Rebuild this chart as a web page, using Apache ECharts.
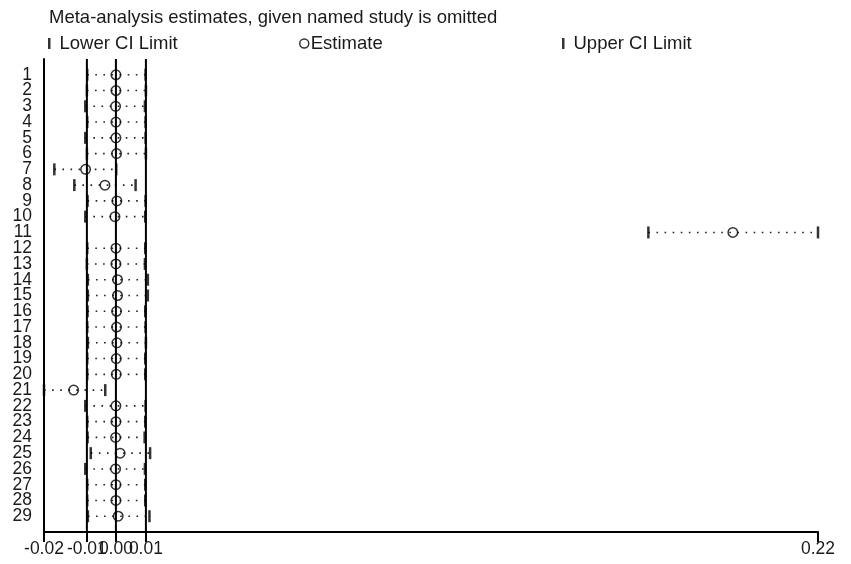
<!DOCTYPE html>
<html>
<head>
<meta charset="utf-8">
<script src="https://cdn.jsdelivr.net/npm/echarts@6/dist/echarts.min.js"></script>
<style>
html,body{margin:0;padding:0;background:#fff;}
#chart{width:851px;height:564px;}
</style>
</head>
<body>
<div id="chart"></div>
<script>
// Study labels (rows, top to bottom)
const studies = ['1','2','3','4','5','6','7','8','9','10','11','12','13','14','15','16','17','18','19','20','21','22','23','24','25','26','27','28','29'];
// Meta-analysis estimate with the named study omitted, and its CI limits
const lowerCI  = [-0.0066,-0.0067,-0.0072,-0.0066,-0.0072,-0.0067,-0.0168,-0.0106,-0.0065,-0.0072,0.1674,-0.0066,-0.0067,-0.0064,-0.0064,-0.0065,-0.0066,-0.0064,-0.0066,-0.0066,-0.0200,-0.0072,-0.0066,-0.0065,-0.0055,-0.0072,-0.0066,-0.0066,-0.0064];
const estimate = [0.0023,0.0023,0.0022,0.0023,0.0023,0.0025,-0.0071,-0.0011,0.0026,0.0020,0.1936,0.0023,0.0023,0.0028,0.0028,0.0025,0.0025,0.0026,0.0024,0.0024,-0.0108,0.0023,0.0023,0.0022,0.0036,0.0022,0.0023,0.0023,0.0030];
const upperCI  = [0.0115,0.0116,0.0113,0.0115,0.0115,0.0116,0.0024,0.0084,0.0115,0.0114,0.2200,0.0114,0.0113,0.0122,0.0122,0.0114,0.0115,0.0116,0.0114,0.0114,-0.0010,0.0115,0.0114,0.0112,0.0129,0.0113,0.0114,0.0114,0.0127];
// Overall (all studies) lower CI, estimate, upper CI
const overall = [-0.0067, 0.0023, 0.0116];
// x-axis range and tick values
const xRange = [-0.02, 0.22];
const xTicks = [-0.02, -0.0067, 0.0023, 0.0116, 0.22];

const FONT = 'Liberation Sans';
const TXT = '#1a1a1a';

// category slots: empty padding slot above row 1 and below the last row
const yCats = [''].concat(studies, ['']);
const lastSlot = yCats.length - 1;
const rowPos = studies.map((s, i) => i + 1);
const loData = lowerCI.map((v, i) => [v, rowPos[i]]);
const estData = estimate.map((v, i) => [v, rowPos[i]]);
const hiData = upperCI.map((v, i) => [v, rowPos[i]]);
const ciData = lowerCI.map((v, i) => [v, upperCI[i], rowPos[i]]);

const chart = echarts.init(document.getElementById('chart'), null, {renderer: 'canvas'});
chart.setOption({
  animation: false,
  backgroundColor: '#fff',
  title: {
    text: 'Meta-analysis estimates, given named study is omitted',
    left: 44, top: 3,
    textStyle: {fontFamily: FONT, fontSize: 18.5, fontWeight: 'normal', color: TXT}
  },
  legend: [
    {data: [{name: 'Lower CI Limit', icon: 'rect', itemStyle: {color: '#000', borderWidth: 0}}],
     left: 43, top: 29, itemWidth: 2.5, itemHeight: 11, selectedMode: false,
     textStyle: {fontFamily: FONT, fontSize: 18.5, color: TXT, padding: [0,0,0,4]}},
    {data: [{name: 'Estimate', icon: 'circle', itemStyle: {color: 'rgba(0,0,0,0)', borderColor: '#000', borderWidth: 1.5}}],
     left: 294, top: 29, itemWidth: 9, itemHeight: 9, selectedMode: false,
     textStyle: {fontFamily: FONT, fontSize: 18.5, color: TXT, padding: [0,0,0,-3]}},
    {data: [{name: 'Upper CI Limit', icon: 'rect', itemStyle: {color: '#000', borderWidth: 0}}],
     left: 557, top: 29, itemWidth: 2.5, itemHeight: 11, selectedMode: false,
     textStyle: {fontFamily: FONT, fontSize: 18.5, color: TXT, padding: [0,0,0,4]}}
  ],
  grid: {left: 44, right: 33, top: 59, bottom: 32, containLabel: false},
  xAxis: {
    type: 'value', min: xRange[0], max: xRange[1],
    axisLine: {show: true, onZero: false, lineStyle: {color: '#000', width: 2}},
    axisTick: {show: true, length: 10, customValues: xTicks, lineStyle: {color: '#000', width: 2}},
    axisLabel: {customValues: xTicks, formatter: v => v.toFixed(2), margin: 8,
      fontFamily: FONT, fontSize: 17.5, color: TXT, hideOverlap: false},
    splitLine: {show: false}
  },
  yAxis: {
    type: 'category', data: yCats, boundaryGap: false, inverse: true,
    axisLine: {show: true, onZero: false, lineStyle: {color: '#000', width: 2}},
    axisTick: {show: false},
    axisLabel: {interval: 0, margin: 12, fontFamily: FONT, fontSize: 17.5, color: TXT},
    splitLine: {show: false}
  },
  series: [
    {
      name: 'CI', type: 'custom', z: 1, silent: true,
      encode: {x: [0, 1], y: 2},
      data: ciData,
      renderItem: function (params, api) {
        const p1 = api.coord([api.value(0), api.value(2)]);
        const p2 = api.coord([api.value(1), api.value(2)]);
        return {type: 'line', shape: {x1: p1[0], y1: p1[1], x2: p2[0], y2: p2[1]},
          style: {stroke: '#222', lineWidth: 1.6, lineDash: [1.6, 6.5]}};
      }
    },
    {
      name: 'Overall', type: 'custom', z: 2, silent: true,
      encode: {x: 0},
      data: overall.map(v => [v]),
      renderItem: function (params, api) {
        const p1 = api.coord([api.value(0), 0]);
        const p2 = api.coord([api.value(0), lastSlot]);
        return {type: 'line', shape: {x1: p1[0], y1: p1[1], x2: p2[0], y2: p2[1]},
          style: {stroke: '#000', lineWidth: 2}};
      }
    },
    {
      name: 'Lower CI Limit', type: 'scatter', z: 3,
      symbol: 'rect', symbolSize: [2.5, 12],
      itemStyle: {color: '#000'},
      data: loData
    },
    {
      name: 'Estimate', type: 'scatter', z: 4,
      symbol: 'circle', symbolSize: 9.5,
      itemStyle: {color: 'rgba(0,0,0,0)', borderColor: '#000', borderWidth: 1.5},
      data: estData
    },
    {
      name: 'Upper CI Limit', type: 'scatter', z: 3,
      symbol: 'rect', symbolSize: [2.5, 12],
      itemStyle: {color: '#000'},
      data: hiData
    }
  ]
});
</script>
</body>
</html>
